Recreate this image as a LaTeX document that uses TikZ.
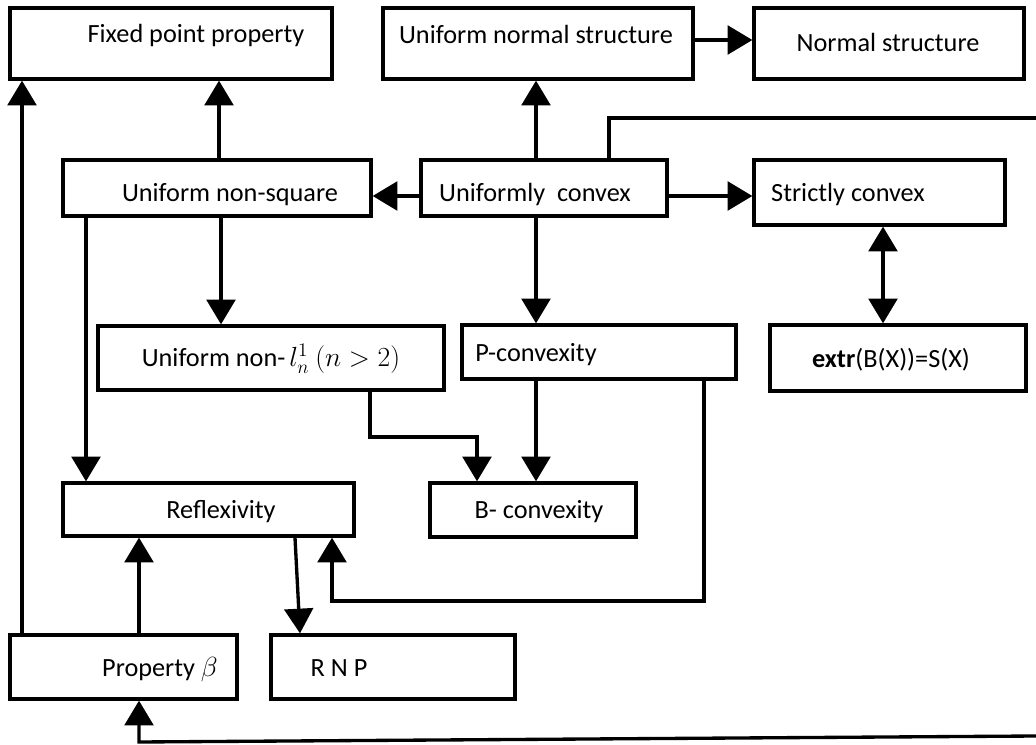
\documentclass[tikz,border=0pt]{standalone}
\usepackage{fontspec}
\setmainfont{Carlito}
\usetikzlibrary{arrows.meta,fit}
\begin{document}
\begin{tikzpicture}[x=0.75pt,y=-0.75pt,
  box/.style={draw,line width=2.5pt,inner sep=0pt,rectangle},
  txt/.style={inner sep=0pt,anchor=mid,font=\fontsize{19.7}{23}\selectfont},
  ln/.style={line width=2.5pt},
  arr/.style={line width=2.5pt,-{Triangle[width=21.5pt,length=18.5pt]}},
  darr/.style={line width=2.5pt,{Triangle[width=21.5pt,length=18.5pt]}-{Triangle[width=21.5pt,length=18.5pt]}}]
\useasboundingbox (0,0) rectangle (1036,745);
% boxes
\node[box, fit={(10,8) (332,79)}] (fpp) {};
\node[box, fit={(383,8) (693,79)}] (unorms) {};
\node[box, fit={(754,8) (1024,79)}] (ns) {};
\node[box, fit={(63,160) (371,216)}] (uns) {};
\node[box, fit={(421,160) (667,216)}] (uc) {};
\node[box, fit={(754,160) (1005,225)}] (sc) {};
\node[box, fit={(98,326) (444,390)}] (unonl) {};
\node[box, fit={(462,325) (736,379)}] (pconv) {};
\node[box, fit={(770,325) (1026,391)}] (extr) {};
\node[box, fit={(63,483) (354,536)}] (refl) {};
\node[box, fit={(430,483) (636,537)}] (bconv) {};
\node[box, fit={(10,635) (237,699)}] (pb) {};
\node[box, fit={(271,635) (515,699)}] (rnp) {};
% texts
\node[txt] (fpp-t) at (196,39) {Fixed point property};
\node[txt] (unorms-t) at (536,40) {Uniform normal structure};
\node[txt] (ns-t) at (888,48) {Normal structure};
\node[txt] (uns-t) at (230,198) {Uniform non-square};
\node[txt] (uc-t) at (535,198) {Uniformly\ \ convex};
\node[txt] (sc-t) at (848,198) {Strictly convex};
\node[txt] (unonl-t) at (271,363) {Uniform non-\kern3pt$l_n^1$ $(n>2)$};
\node[txt] (pconv-t) at (536,358) {P-convexity};
\node[txt] (extr-t) at (891,364) {\textbf{extr}(B(X))=S(X)};
\node[txt] (refl-t) at (221,515) {Reflexivity};
\node[txt] (bconv-t) at (539,515) {B- convexity};
\node[txt] (pb-t) at (160,673) {Property $\beta$};
\node[txt] (rnp-t) at (339,673) {R N P};
% helper coordinates
\coordinate (x22) at (22,0);
\coordinate (x86) at (86,0);
\coordinate (x139) at (139,0);
\coordinate (x219) at (219,0);
\coordinate (x221) at (221,0);
\coordinate (x295) at (295,0);
\coordinate (x300) at (300,0);
\coordinate (x332) at (332,0);
\coordinate (x370) at (370,0);
\coordinate (x477) at (477,0);
\coordinate (x536) at (536,0);
\coordinate (x609) at (609,0);
\coordinate (x704) at (704,0);
\coordinate (x883) at (883,0);
\coordinate (y40) at (0,40);
\coordinate (y196) at (0,196);
\coordinate (ucup) at (609,118);
\coordinate (edge1) at (1036,118);
\coordinate (b1) at (370,437);
\coordinate (b2) at (477,437);
\coordinate (p1) at (704,601);
\coordinate (p2) at (332,601);
\coordinate (edge2) at (1036,736);
\coordinate (q1) at (139,742);
% connectors
\draw[arr] (pb.north -| x22) -- (fpp.south -| x22);
\draw[arr] (uns.north -| x219) -- (fpp.south -| x219);
\draw[arr] (uc.north -| x536) -- (unorms.south -| x536);
\draw[arr] (unorms.east |- y40) -- (ns.west |- y40);
\draw[arr] (uc.west |- y196) -- (uns.east |- y196);
\draw[arr] (uc.east |- y196) -- (sc.west |- y196);
\draw[darr] (sc.south -| x883) -- (extr.north -| x883);
\draw[ln] (uc.north -| x609) -- (ucup) -- (edge1);
\draw[arr] (uns.south -| x86) -- (refl.north -| x86);
\draw[arr] (uns.south -| x221) -- (unonl.north -| x221);
\draw[arr] (uc.south -| x536) -- (pconv.north -| x536);
\draw[arr] (pconv.south -| x536) -- (bconv.north -| x536);
\draw[arr] (unonl.south -| x370) -- (b1) -- (b2) -- (bconv.north -| x477);
\draw[arr] (pconv.south -| x704) -- (p1) -- (p2) -- (refl.south -| x332);
\draw[arr] (refl.south -| x295) -- (rnp.north -| x300);
\draw[arr] (pb.north -| x139) -- (refl.south -| x139);
\draw[arr] (edge2) -- (q1) -- (pb.south -| x139);
\end{tikzpicture}
\end{document}
